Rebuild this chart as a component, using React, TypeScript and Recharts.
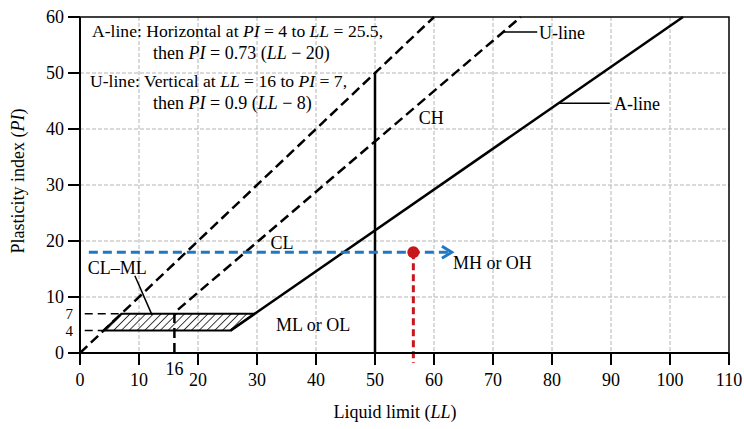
import React from "react";
import {
  Area,
  CartesianGrid,
  ComposedChart,
  Line,
  ReferenceArea,
  ReferenceDot,
  ReferenceLine,
  XAxis,
  YAxis,
} from "recharts";

const SERIF = '"Liberation Serif", "Times New Roman", serif';
const BLUE = "#1f78c6";
const RED = "#c8161d";

// axis ticks
const llTicks = [0, 10, 16, 20, 30, 40, 50, 60, 70, 80, 90, 100, 110];
const piTicks = [0, 4, 7, 10, 20, 30, 40, 50, 60];
const gridLL = [10, 20, 30, 40, 50, 60, 70, 80, 90, 100];
const gridPI = [10, 20, 30, 40, 50];

// chart lines (LL = x, PI = y)
const equalLine = [
  { x: 0, y: 0 },
  { x: 60, y: 60 },
];
const uLine = [
  { x: 16, y: 0 },
  { x: 16, y: 7.2 },
  { x: 74.7, y: 60 },
];
const aLine = [
  { x: 25.5, y: 4 },
  { x: 102.2, y: 60 },
];
const ll50 = [
  { x: 50, y: 0 },
  { x: 50, y: 50 },
];
// CL-ML hatched band, [low, high] PI
const clmlBand = [
  { x: 4, r: [4, 4] },
  { x: 7, r: [4, 7] },
  { x: 25.5, r: [4, 7] },
  { x: 29.6, r: [7, 7] },
];
const guide7 = [
  { x: 0.8, y: 7 },
  { x: 7, y: 7 },
];
const guide4 = [
  { x: 0.8, y: 4 },
  { x: 4, y: 4 },
];
const clmlPointer = [
  { x: 9.3, y: 13.8 },
  { x: 12.2, y: 6.8 },
];
const aPointer = [
  { x: 81.1, y: 44.6 },
  { x: 89.8, y: 44.6 },
];
const uPointer = [
  { x: 71.7, y: 57.3 },
  { x: 77.5, y: 57.3 },
];

// sample soil
const sampleLL = 56.5;
const samplePI = 18;
const sampleArrow = [
  { x: 1.5, y: samplePI },
  { x: 63, y: samplePI },
];

const zoneLabels = [
  { text: "U-line", x: 77.8, y: 57.2 },
  { text: "A-line", x: 90.5, y: 44.5 },
  { text: "CH", x: 57.4, y: 42 },
  { text: "CL", x: 32.3, y: 19.8 },
  { text: "CL–ML", x: 1.3, y: 15.3 },
  { text: "ML or OL", x: 33.2, y: 5 },
  { text: "MH or OH", x: 63.2, y: 16.2 },
];

function LLTick(props: any) {
  const { x, y, payload } = props;
  if (payload.value === 16) {
    return (
      <text x={x} y={y + 6} textAnchor="middle" fontSize={18} fontFamily={SERIF} fill="#000">
        16
      </text>
    );
  }
  return (
    <g>
      <line x1={x} x2={x} y1={y - 16} y2={y - 4} stroke="#000" strokeWidth={2} />
      <text x={x} y={y + 17} textAnchor="middle" fontSize={18} fontFamily={SERIF} fill="#000">
        {payload.value}
      </text>
    </g>
  );
}

function PITick(props: any) {
  const { x, y, payload } = props;
  const v = payload.value;
  if (v === 4 || v === 7) {
    return (
      <text x={x + 9} y={y + 5} textAnchor="end" fontSize={15} fontFamily={SERIF} fill="#000">
        {v}
      </text>
    );
  }
  return (
    <g>
      <line x1={x + 4} x2={x + 16} y1={y} y2={y} stroke="#000" strokeWidth={2} />
      <text x={x} y={y + 6} textAnchor="end" fontSize={18} fontFamily={SERIF} fill="#000">
        {v}
      </text>
    </g>
  );
}

const lineProps = {
  dataKey: "y",
  dot: false,
  activeDot: false,
  isAnimationActive: false,
  legendType: "none" as const,
};

export default function App() {
  return (
    <div style={{ width: 744, height: 429, background: "#fff" }}>
      <style>{"html,body{margin:0;padding:0;overflow:hidden}"}</style>
      <ComposedChart width={744} height={429} margin={{ top: 17, right: 15, left: 20, bottom: 36 }}>
        <defs>
          <pattern id="hatch" width="5.5" height="5.5" patternUnits="userSpaceOnUse" patternTransform="rotate(45)">
            <line x1="0" y1="0" x2="0" y2="5.5" stroke="#000" strokeWidth="1.5" />
          </pattern>
          <marker
            id="blueArrow"
            viewBox="0 0 10 10"
            refX="8"
            refY="5"
            markerWidth="5"
            markerHeight="5"
            orient="auto"
            markerUnits="strokeWidth"
          >
            <path d="M1.5,1 L8,5 L1.5,9" fill="none" stroke={BLUE} strokeWidth="2" />
          </marker>
        </defs>
        <CartesianGrid
          horizontalValues={gridPI}
          verticalValues={gridLL}
          stroke="#b4b4b4"
          strokeDasharray="4 2"
          strokeWidth={1}
        />
        <XAxis
          type="number"
          dataKey="x"
          domain={[0, 110]}
          ticks={llTicks}
          interval={0}
          height={40}
          tickSize={12}
          tickMargin={4}
          tickLine={false}
          tick={<LLTick />}
          axisLine={{ stroke: "#000", strokeWidth: 2 }}
        />
        <YAxis
          type="number"
          domain={[0, 60]}
          ticks={piTicks}
          interval={0}
          width={60}
          tickSize={12}
          tickMargin={4}
          tickLine={false}
          tick={<PITick />}
          axisLine={{ stroke: "#000", strokeWidth: 2 }}
        />
        <ReferenceArea x1={0} x2={110} y1={0} y2={60} fill="none" stroke="#000" strokeWidth={1.5} />

        <Area
          data={clmlBand}
          dataKey="r"
          type="linear"
          fill="url(#hatch)"
          fillOpacity={1}
          stroke="#000"
          strokeWidth={2}
          isAnimationActive={false}
          activeDot={false}
          legendType="none"
        />
        <Line {...lineProps} data={guide7} stroke="#000" strokeWidth={1.5} strokeDasharray="8 5" />
        <Line {...lineProps} data={guide4} stroke="#000" strokeWidth={1.5} strokeDasharray="8 5" />
        <Line {...lineProps} data={equalLine} stroke="#000" strokeWidth={2.5} strokeDasharray="10 5" />
        <Line {...lineProps} data={uLine} stroke="#000" strokeWidth={2.5} strokeDasharray="10 5" />
        <Line {...lineProps} data={aLine} stroke="#000" strokeWidth={2.5} />
        <Line {...lineProps} data={ll50} stroke="#000" strokeWidth={2.5} />
        <Line {...lineProps} data={clmlPointer} stroke="#000" strokeWidth={1.5} />
        <Line {...lineProps} data={aPointer} stroke="#000" strokeWidth={1.5} />
        <Line {...lineProps} data={uPointer} stroke="#000" strokeWidth={1.5} />

        <Line
          {...lineProps}
          data={sampleArrow}
          stroke={BLUE}
          strokeWidth={3}
          strokeDasharray="9 5"
          markerEnd="url(#blueArrow)"
        />
        <ReferenceLine
          segment={[
            { x: sampleLL, y: samplePI },
            { x: sampleLL, y: -1.8 },
          ]}
          ifOverflow="visible"
          stroke={RED}
          strokeWidth={3}
          strokeDasharray="7 4"
        />
        <ReferenceDot x={sampleLL} y={samplePI} r={6} fill={RED} stroke="none" />

        {zoneLabels.map((l) => (
          <ReferenceDot
            key={l.text}
            x={l.x}
            y={l.y}
            r={0}
            fill="none"
            stroke="none"
            label={{ value: l.text, position: "right", offset: 0, fontSize: 18, fontFamily: SERIF, fill: "#000" }}
          />
        ))}

        <g fontFamily={SERIF} fontSize={18} fill="#000">
          <text x={92} y={37} fontSize={17.6}>
            A-line: Horizontal at <tspan fontStyle="italic">PI</tspan> = 4 to <tspan fontStyle="italic">LL</tspan> = 25.5,
          </text>
          <text x={153} y={59}>
            then <tspan fontStyle="italic">PI</tspan> = 0.73 (<tspan fontStyle="italic">LL</tspan> − 20)
          </text>
          <text x={90} y={87} fontSize={17.6}>
            U-line: Vertical at <tspan fontStyle="italic">LL</tspan> = 16 to <tspan fontStyle="italic">PI</tspan> = 7,
          </text>
          <text x={153} y={109}>
            then <tspan fontStyle="italic">PI</tspan> = 0.9 (<tspan fontStyle="italic">LL</tspan> − 8)
          </text>
          <text x={395} y={418} textAnchor="middle">
            Liquid limit (<tspan fontStyle="italic">LL</tspan>)
          </text>
          <text transform="rotate(-90)" x={-181} y={24} textAnchor="middle">
            Plasticity index (<tspan fontStyle="italic">PI</tspan>)
          </text>
        </g>
      </ComposedChart>
    </div>
  );
}
